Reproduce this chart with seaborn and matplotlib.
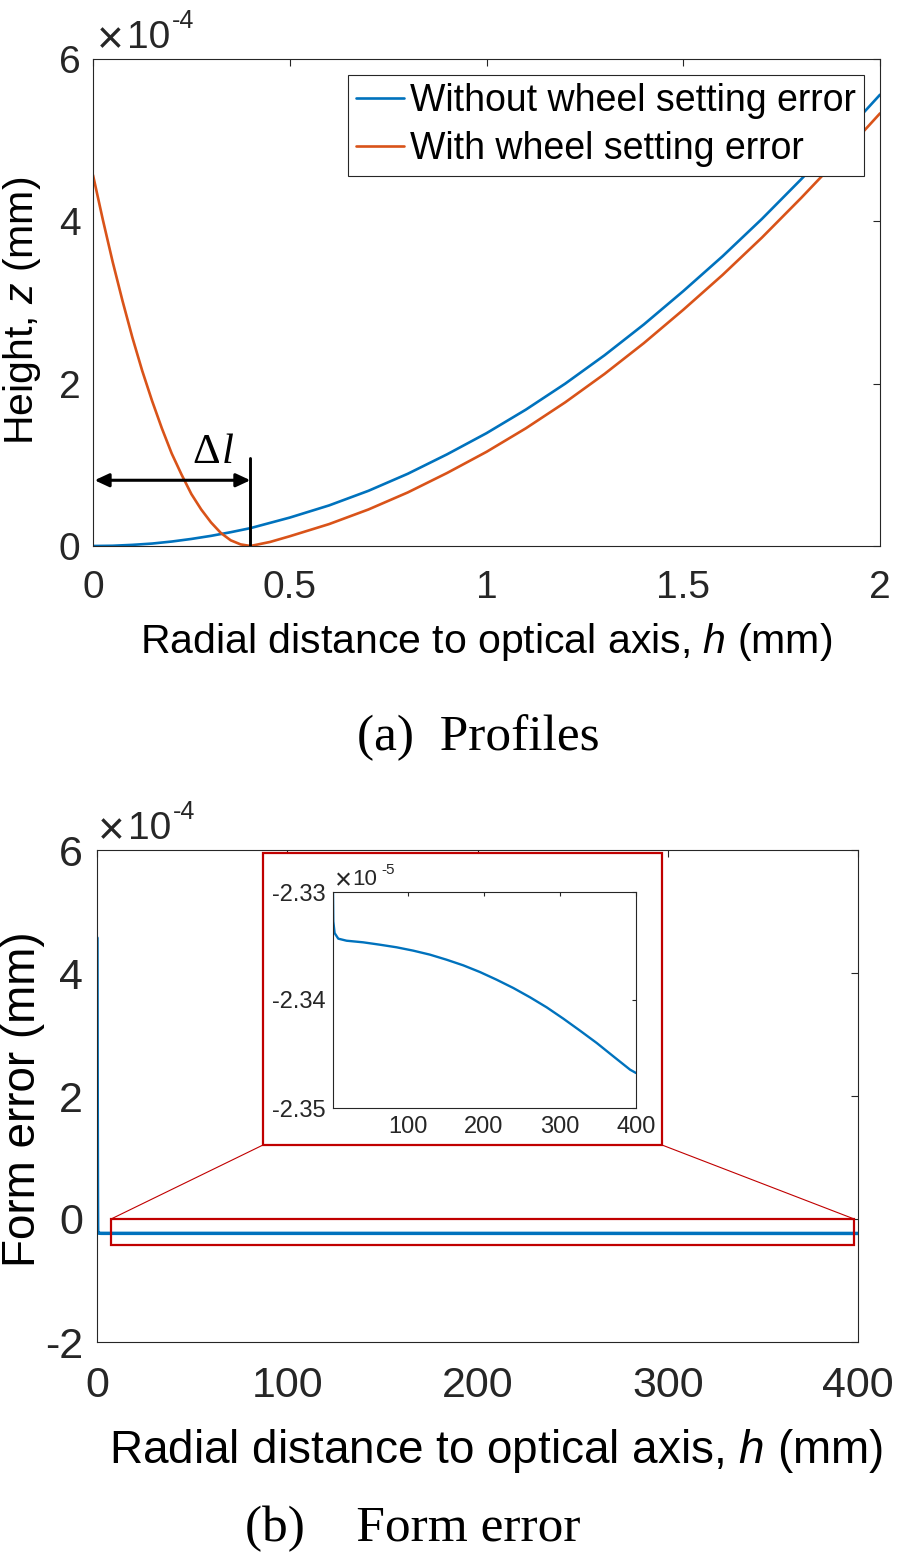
import matplotlib
matplotlib.use("Agg")
import matplotlib.pyplot as plt
import seaborn as sns
import numpy as np
from matplotlib.patches import Rectangle, ConnectionPatch
from matplotlib.ticker import FuncFormatter, FixedLocator

# ---------------- data ----------------
# (a) Profiles: height z in units of 1e-4 mm
h_without = [0, 0.05, 0.1, 0.15, 0.2, 0.25, 0.3, 0.35, 0.4, 0.5, 0.6, 0.7, 0.8,
             0.9, 1.0, 1.1, 1.2, 1.3, 1.4, 1.5, 1.6, 1.7, 1.8, 1.9, 2.0]
z_without_e4 = [0, 0.003, 0.014, 0.03, 0.055, 0.087, 0.125, 0.17, 0.22, 0.35,
                0.50, 0.68, 0.89, 1.13, 1.39, 1.68, 2.00, 2.35, 2.73, 3.14,
                3.57, 4.03, 4.52, 5.03, 5.56]
h_with = [0, 0.025, 0.05, 0.075, 0.1, 0.125, 0.15, 0.175, 0.2, 0.225, 0.25,
          0.275, 0.3, 0.325, 0.35, 0.375, 0.4, 0.45, 0.5, 0.6, 0.7, 0.8, 0.9,
          1.0, 1.1, 1.2, 1.3, 1.4, 1.5, 1.6, 1.7, 1.8, 1.9, 2.0]
z_with_e4 = [4.57, 4.02, 3.50, 3.02, 2.57, 2.16, 1.79, 1.45, 1.14, 0.88, 0.64,
             0.45, 0.29, 0.16, 0.07, 0.02, 0.0, 0.05, 0.12, 0.27, 0.45, 0.66,
             0.90, 1.16, 1.45, 1.77, 2.12, 2.50, 2.91, 3.34, 3.80, 4.29, 4.80,
             5.33]

# (b) Form error in units of 1e-5 mm
h_err = [0, 0.05, 0.1, 0.15, 0.2, 0.25, 0.3, 0.35, 0.4, 1.0, 2.0, 2.4, 4.1, 8.9,
         19.8, 41.7, 63.6, 85.5, 107.4, 129.3, 151.2, 173.1, 195, 216.9, 238.9,
         260.8, 282.7, 304.6, 326.5, 348.4, 370.3, 392.2, 400]
err_e5 = [45.7, 34.97, 25.56, 17.6, 10.85, 5.53, 1.65, -1.0, -2.2, -2.31, -2.33,
          -2.33272, -2.3338, -2.33432, -2.33451, -2.33466, -2.33488, -2.33512,
          -2.33543, -2.3358, -2.33627, -2.33679, -2.33741, -2.33812, -2.33889,
          -2.33975, -2.34068, -2.34173, -2.34284, -2.34398, -2.34522, -2.34645,
          -2.34676]

labels = ["Without wheel setting error", "With wheel setting error"]
top_xticks = [0, 0.5, 1, 1.5, 2]
top_yticks_e4 = [0, 2, 4, 6]
bot_xticks = [0, 100, 200, 300, 400]
bot_yticks_e4 = [-2, 0, 2, 4, 6]
inset_xticks = [100, 200, 300, 400]
inset_yticks_e5 = [-2.35, -2.34, -2.33]
zoom_x = (7.4, 398)
zoom_y_e4 = (-0.42, 0.0)
inset_xlim = (2, 400)
delta_l = 0.4

# ---------------- style ----------------
sns.set_theme(style="white")
plt.rcParams["font.family"] = ["Liberation Sans", "DejaVu Sans"]
plt.rcParams["axes.unicode_minus"] = False
plt.rcParams["mathtext.fontset"] = "custom"
plt.rcParams["mathtext.rm"] = "Liberation Sans"
plt.rcParams["mathtext.it"] = "Liberation Sans:italic"

BLUE = "#0072BD"
ORANGE = "#D95319"
RED = "#C00000"
GREY = "#262626"

W, H = 898, 1557
fig = plt.figure(figsize=(W / 100, H / 100), dpi=100)
fig.patch.set_facecolor("white")


def fx(px):
    return px / W


def fy(py):
    return 1 - py / H


def style_axes(ax, fs, pad_x, pad_y, ticklen=5):
    for s in ax.spines.values():
        s.set_color(GREY)
        s.set_linewidth(0.8)
        s.set_visible(True)
    ax.tick_params(direction="in", top=True, right=True, length=ticklen,
                   width=0.8, color=GREY, labelcolor=GREY, labelsize=fs)
    ax.tick_params(axis="x", pad=pad_x)
    ax.tick_params(axis="y", pad=pad_y)
    ax.set_facecolor("white")


def exponent(x_px, base_px, exp, big=True):
    """MATLAB-like 'x10^exp' multiplier drawn as plain text pieces."""
    if big:
        fig.text(fx(x_px), fy(base_px + 5), "×", fontsize=33, ha="left",
                 va="baseline", color=GREY)
        fig.text(fx(x_px + 30), fy(base_px), "10", fontsize=28, ha="left",
                 va="baseline", color=GREY)
        fig.text(fx(x_px + 75), fy(base_px - 20), exp, fontsize=18, ha="left",
                 va="baseline", color=GREY)
    else:
        fig.text(fx(x_px), fy(base_px + 4), "×", fontsize=21, ha="left",
                 va="baseline", color=GREY)
        fig.text(fx(x_px + 17), fy(base_px), "10", fontsize=16, ha="left",
                 va="baseline", color=GREY)
        fig.text(fx(x_px + 46), fy(base_px - 11), exp, fontsize=11, ha="left",
                 va="baseline", color=GREY)


# ---------------- (a) Profiles ----------------
ax1 = fig.add_axes([fx(93), fy(546), (880 - 93) / W, (546 - 59) / H])
sns.lineplot(x=h_without, y=np.array(z_without_e4) * 1e-4, ax=ax1, color=BLUE,
             lw=1.9, label=labels[0], sort=False, estimator=None)
sns.lineplot(x=h_with, y=np.array(z_with_e4) * 1e-4, ax=ax1, color=ORANGE,
             lw=1.9, label=labels[1], sort=False, estimator=None)
ax1.set_xlim(0, 2)
ax1.set_ylim(0, 6e-4)
ax1.xaxis.set_major_locator(FixedLocator(top_xticks))
ax1.yaxis.set_major_locator(FixedLocator([v * 1e-4 for v in top_yticks_e4]))
ax1.xaxis.set_major_formatter(FuncFormatter(lambda v, p: f"{v:g}"))
ax1.yaxis.set_major_formatter(FuncFormatter(lambda v, p: f"{round(v / 1e-4, 6):g}"))
style_axes(ax1, 28, 17, 9)
ax1.set_xlabel("")
ax1.set_ylabel("")
leg = ax1.legend(loc="upper right", bbox_to_anchor=((864 - 93) / 787, (546 - 75) / 487),
                 borderaxespad=0, fontsize=27, frameon=True, fancybox=False,
                 framealpha=1, edgecolor=GREY, handlelength=1.29,
                 handletextpad=0.15, borderpad=0.22, labelspacing=0.32)
leg.get_frame().set_linewidth(0.8)
for t in leg.get_texts():
    t.set_color("black")

# Delta l annotation
ax1.annotate("", xy=(delta_l, 0.81e-4), xytext=(0.004, 0.81e-4),
             arrowprops=dict(arrowstyle="<|-|>,head_length=0.43,head_width=0.2",
                             color="black", lw=2.2, shrinkA=0, shrinkB=0,
                             mutation_scale=20))
ax1.plot([delta_l, delta_l], [0, 1.08e-4], color="black", lw=2.1)
ax1.text(0.252, 1.02e-4, "Δ", fontsize=31, family="Liberation Serif",
         ha="left", va="baseline", color="black")
ax1.text(0.327, 1.02e-4, "l", fontsize=31, family="Liberation Serif",
         style="italic", ha="left", va="baseline", color="black")

fig.text(fx(486), fy(653), "Radial distance to optical axis, $h$ (mm)",
         fontsize=29.5, ha="center", va="baseline", color="black")
fig.text(fx(22), fy(311), "Height, $z$ (mm)", fontsize=29.5, rotation=90,
         ha="center", va="center", color="black")
exponent(97, 48, "-4")
fig.text(fx(478), fy(750), "(a)  Profiles", fontsize=37,
         family="Liberation Serif", ha="center", va="baseline", color="black")

# ---------------- (b) Form error ----------------
ax2 = fig.add_axes([fx(97), fy(1342), (858 - 97) / W, (1342 - 850) / H])
sns.lineplot(x=h_err, y=np.array(err_e5) * 1e-5, ax=ax2, color=BLUE, lw=2.5,
             sort=False, estimator=None)
ax2.set_xlim(0, 400)
ax2.set_ylim(-2e-4, 6e-4)
ax2.xaxis.set_major_locator(FixedLocator(bot_xticks))
ax2.yaxis.set_major_locator(FixedLocator([v * 1e-4 for v in bot_yticks_e4]))
ax2.xaxis.set_major_formatter(FuncFormatter(lambda v, p: f"{v:g}"))
ax2.yaxis.set_major_formatter(FuncFormatter(lambda v, p: f"{round(v / 1e-4, 6):g}"))
style_axes(ax2, 31, 17, 10)
ax2.set_xlabel("")
ax2.set_ylabel("")
ax2.add_patch(Rectangle((zoom_x[0], zoom_y_e4[0] * 1e-4), zoom_x[1] - zoom_x[0],
                        (zoom_y_e4[1] - zoom_y_e4[0]) * 1e-4, fill=False,
                        ec=RED, lw=1.6, zorder=5))

# inset frame + connectors
frame = Rectangle((fx(263), fy(1145)), (662 - 263) / W, (1145 - 853) / H,
                  transform=fig.transFigure, fc="white", ec=RED, lw=1.6, zorder=2)
fig.add_artist(frame)
for xa, xb in [(zoom_x[0], 263), (zoom_x[1], 662)]:
    con = ConnectionPatch(xyA=(xa, zoom_y_e4[1] * 1e-4), coordsA=ax2.transData,
                          xyB=(fx(xb), fy(1145)), coordsB=fig.transFigure,
                          color=RED, lw=0.8, zorder=1.5)
    fig.add_artist(con)

ax3 = fig.add_axes([fx(333), fy(1108), (636 - 333) / W, (1108 - 892) / H], zorder=3)
sns.lineplot(x=h_err, y=np.array(err_e5) * 1e-5, ax=ax3, color=BLUE, lw=1.7,
             sort=False, estimator=None)
ax3.set_xlim(*inset_xlim)
ax3.set_ylim(-2.35e-5, -2.33e-5)
ax3.xaxis.set_major_locator(FixedLocator(inset_xticks))
ax3.yaxis.set_major_locator(FixedLocator([v * 1e-5 for v in inset_yticks_e5]))
ax3.xaxis.set_major_formatter(FuncFormatter(lambda v, p: f"{v:g}"))
ax3.yaxis.set_major_formatter(FuncFormatter(lambda v, p: f"{v / 1e-5:.2f}"))
style_axes(ax3, 17, 6, 5, ticklen=3)
ax3.set_xlabel("")
ax3.set_ylabel("")

fig.text(fx(496), fy(1463), "Radial distance to optical axis, $h$ (mm)",
         fontsize=33, ha="center", va="baseline", color="black")
fig.text(fx(23), fy(1099), "Form error (mm)", fontsize=33, rotation=90,
         ha="center", va="center", color="black")
exponent(98, 839, "-4")
exponent(335, 885, "-5", big=False)
fig.text(fx(413), fy(1541), "(b)    Form error", fontsize=37,
         family="Liberation Serif", ha="center", va="baseline", color="black")

fig.savefig("out.png", dpi=100, facecolor="white")
